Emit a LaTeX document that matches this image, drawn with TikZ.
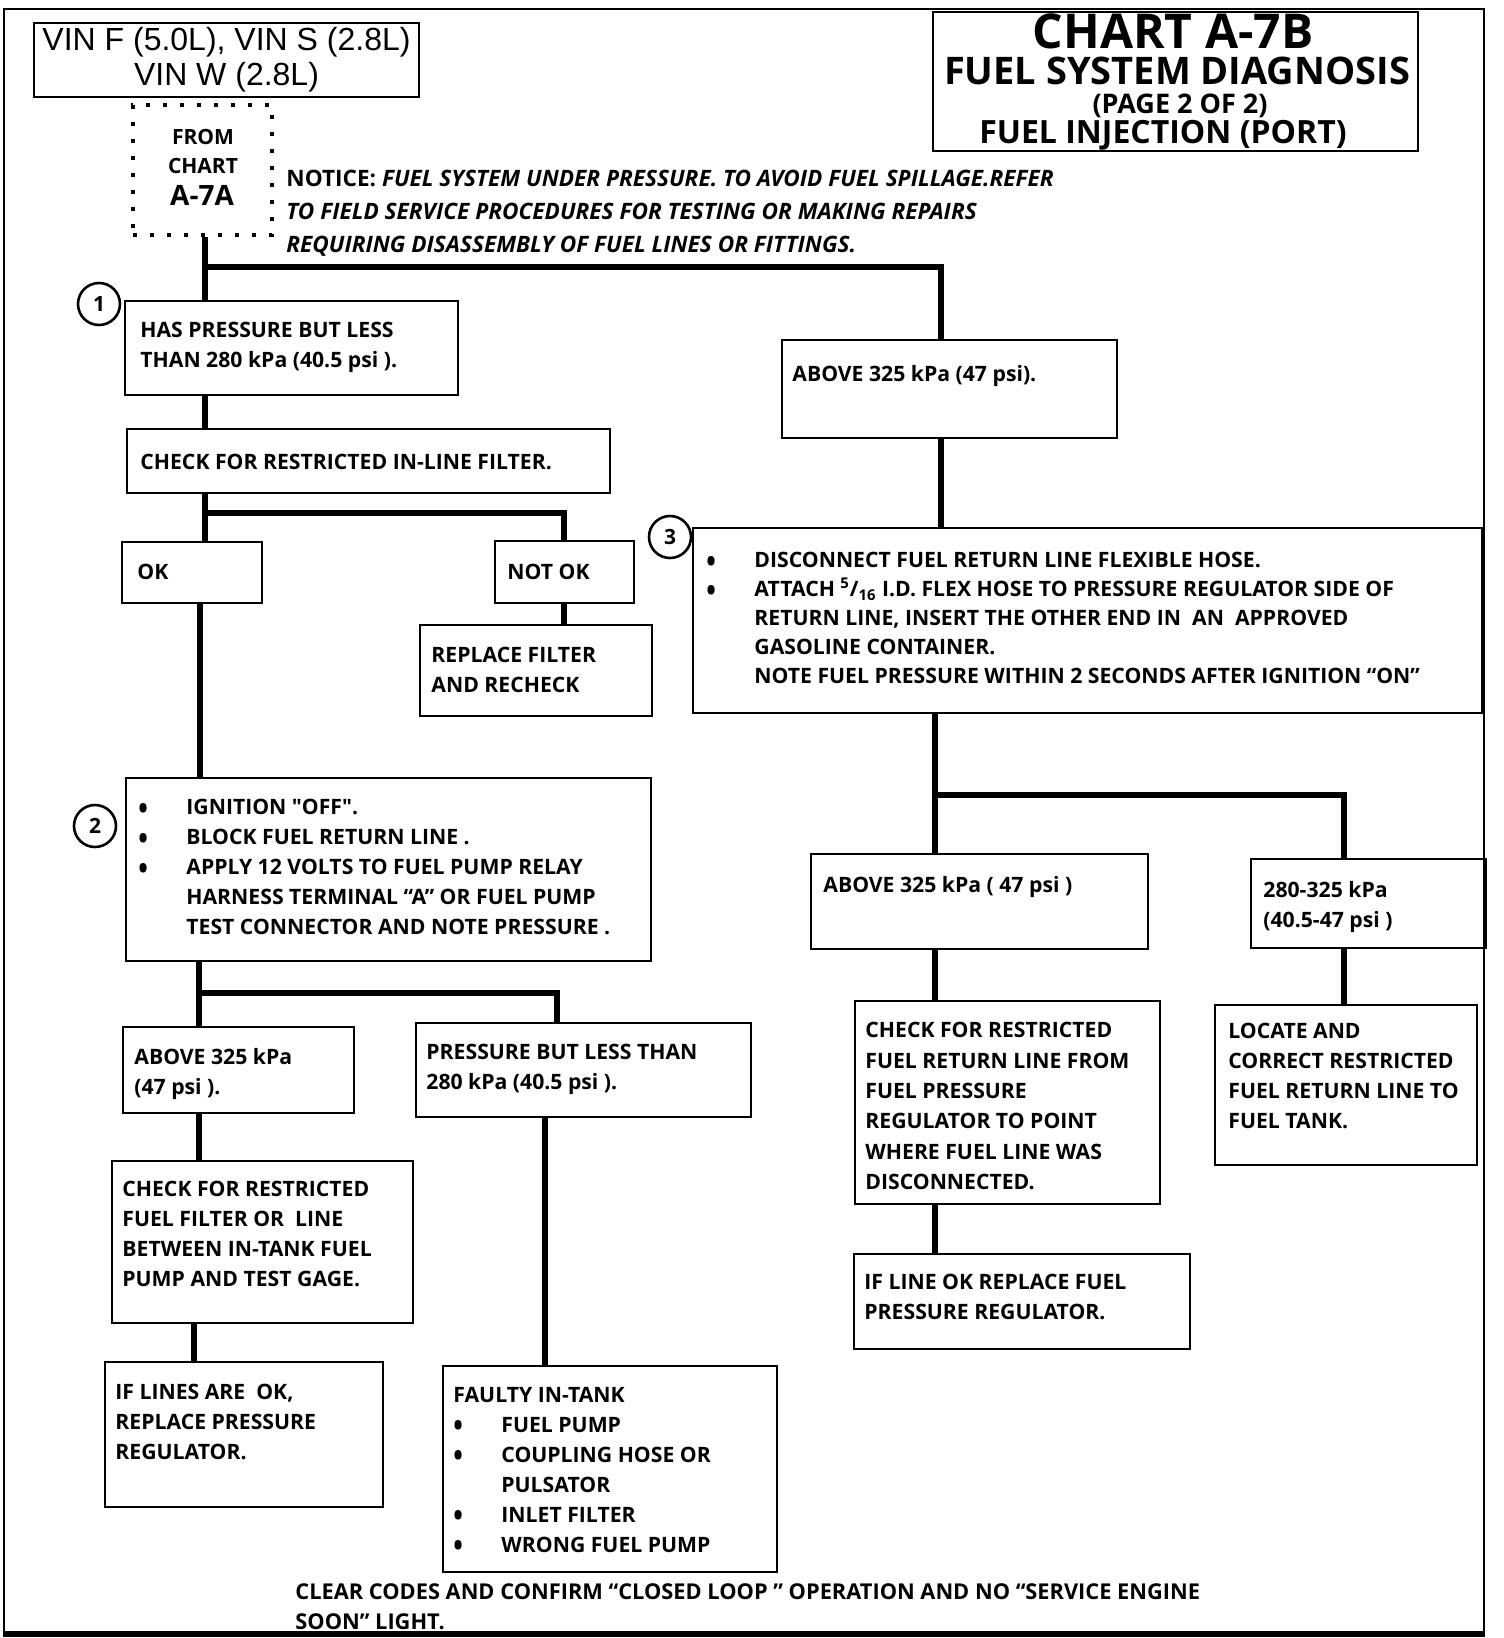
\documentclass[tikz,border=0pt]{standalone}
\usepackage{fontspec}
\newfontfamily\chartfont{Open Sans}
\newfontfamily\vinfont{Liberation Sans}
\usetikzlibrary{fit}

\tikzset{
  box/.style={draw,line width=1.3pt,inner sep=0pt},
  txt/.style={anchor=north west,inner sep=0pt,align=left,
    font=\chartfont\bfseries\fontsize{10.6}{15}\selectfont},
  conn/.style={line width=3.2pt},
  num/.style={circle,draw,line width=1.3pt,fill=white,minimum size=21pt,inner sep=0pt,
    font=\chartfont\bfseries\fontsize{10.5}{12}\selectfont},
  head/.style={inner sep=0pt},
}
\newcommand{\bl}{\makebox[24pt][l]{\raisebox{-0.2em}{\scalebox{1.2}[1.45]{\textbullet}}}}
\newcommand{\nb}{\makebox[24pt]{}}

\begin{document}
\begin{tikzpicture}[x=0.5pt,y=-0.5pt]
\useasboundingbox (0,0) rectangle (1504,1638);
% outer frame
\draw[line width=1.3pt] (4,1634) -- (4,9) -- (1484,9) -- (1484,1634);
\draw[line width=2.6pt] (3,1634) -- (1485,1634);

% header
\node[box,fit={(34,23) (419,97)}] (vin) {};
\node[head,align=center,font=\vinfont\fontsize{16}{17.5}\selectfont] (vintext) at (vin.center) {VIN F (5.0L), VIN S (2.8L)\\VIN W (2.8L)};
\node[box,fit={(933,12) (1418,151)}] (title) {};
\node[head,font=\chartfont\bfseries\fontsize{24}{25}\selectfont] (title1) at (1173,31) {CHART A-7B};
\node[head,font=\chartfont\bfseries\fontsize{19}{20}\selectfont] (title2) at (1177,71) {FUEL SYSTEM DIAGNOSIS};
\node[head,font=\chartfont\bfseries\fontsize{13.5}{14}\selectfont] (title3) at (1180,106) {(PAGE 2 OF 2)};
\node[head,font=\chartfont\bfseries\fontsize{16}{17}\selectfont] (title4) at (1163,135) {FUEL INJECTION (PORT)};

% entry from chart A-7A
\node[fit={(133,105) (272,235)},inner sep=0pt,draw,line width=2pt,dash pattern=on 2pt off 6.5pt] (from) {};
\node[head,font=\chartfont\bfseries\fontsize{10.5}{11}\selectfont] (from1) at (203,137) {FROM};
\node[head,font=\chartfont\bfseries\fontsize{10.5}{11}\selectfont] (from2) at (203,166) {CHART};
\node[head,font=\chartfont\bfseries\fontsize{14}{15}\selectfont] (from3) at (202,195) {A-7A};
\node[txt,font=\chartfont\bfseries\fontsize{11.3}{16.4}\selectfont] (notice) at (286,170)
  {NOTICE: \textit{FUEL SYSTEM UNDER PRESSURE. TO AVOID FUEL SPILLAGE.REFER}\\
   \textit{TO FIELD SERVICE PROCEDURES FOR TESTING OR MAKING REPAIRS}\\
   \textit{REQUIRING DISASSEMBLY OF FUEL LINES OR FITTINGS.}};

% left branch
\node[box,fit={(125,301) (458,395)}] (press1) {};
\node[txt] (press1text) at (140,322) {HAS PRESSURE BUT LESS\\THAN 280 kPa (40.5 psi ).};
\node[num] (n1) at (99,304) {1};
\node[box,fit={(127,429) (610,493)}] (filter) {};
\node[txt] (filtertext) at (140,454) {CHECK FOR RESTRICTED IN-LINE FILTER.};
\node[box,fit={(122,542) (262,603)}] (ok) {};
\node[txt] (oktext) at (137,564) {OK};
\node[box,fit={(495,541) (634,603)}] (notok) {};
\node[txt] (notoktext) at (507,564) {NOT OK};
\node[box,fit={(420,625) (652,716)}] (replace) {};
\node[txt] (replacetext) at (431,647) {REPLACE FILTER\\AND RECHECK};

\node[box,fit={(126,778) (651,961)}] (relay) {};
\node[txt] (relaytext) at (138,799)
  {\bl IGNITION "OFF".\\
   \bl BLOCK FUEL RETURN LINE .\\
   \bl APPLY 12 VOLTS TO FUEL PUMP RELAY\\
   \nb HARNESS TERMINAL “A” OR FUEL PUMP\\
   \nb TEST CONNECTOR AND NOTE PRESSURE .};
\node[num] (n2) at (95,826) {2};
\node[box,fit={(123,1027) (354,1113)}] (high2) {};
\node[txt] (high2text) at (134,1048) {ABOVE 325 kPa\\(47 psi ).};
\node[box,fit={(416,1023) (751,1117)}] (low2) {};
\node[txt] (low2text) at (426,1044) {PRESSURE BUT LESS THAN\\280 kPa (40.5 psi ).};
\node[box,fit={(112,1161) (413,1323)}] (gage) {};
\node[txt] (gagetext) at (122,1181) {CHECK FOR RESTRICTED\\FUEL FILTER OR\ \ LINE\\BETWEEN IN-TANK FUEL\\PUMP AND TEST GAGE.};
\node[box,fit={(105,1362) (383,1507)}] (regl) {};
\node[txt] (regltext) at (115,1384) {IF LINES ARE\ \ OK,\\REPLACE PRESSURE\\REGULATOR.};
\node[box,fit={(443,1366) (777,1572)}] (pump) {};
\node[txt] (pumptext) at (453,1387)
  {FAULTY IN-TANK\\
   \bl FUEL PUMP\\
   \bl COUPLING HOSE OR\\
   \nb PULSATOR\\
   \bl INLET FILTER\\
   \bl WRONG FUEL PUMP};

% right branch
\node[box,fit={(782,340) (1117,438)}] (high1) {};
\node[txt] (high1text) at (792,365) {ABOVE 325 kPa (47 psi).};
\node[box,fit={(693,528) (1482,713)}] (hose) {};
\node[txt,font=\chartfont\bfseries\fontsize{10.6}{14.5}\selectfont] (hosetext) at (706,552)
  {\bl DISCONNECT FUEL RETURN LINE FLEXIBLE HOSE.\\
   \bl ATTACH \textsuperscript{5}/\textsubscript{16} I.D. FLEX HOSE TO PRESSURE REGULATOR SIDE OF\\
   \nb RETURN LINE, INSERT THE OTHER END IN\ \ AN\ \ APPROVED\\
   \nb GASOLINE CONTAINER.\\
   \nb NOTE FUEL PRESSURE WITHIN 2 SECONDS AFTER IGNITION “ON”};
\node[num] (n3) at (670,537) {3};
\node[box,fit={(811,854) (1148,949)}] (high3) {};
\node[txt] (high3text) at (823,876) {ABOVE 325 kPa ( 47 psi )};
\node[box,fit={(1251,859) (1486,948)}] (mid3) {};
\node[txt] (mid3text) at (1263,881) {280-325 kPa\\(40.5-47 psi )};
\node[box,fit={(855,1001) (1160,1204)}] (retline) {};
\node[txt,font=\chartfont\bfseries\fontsize{10.6}{15.2}\selectfont] (retlinetext) at (865,1022)
  {CHECK FOR RESTRICTED\\FUEL RETURN LINE FROM\\FUEL PRESSURE\\REGULATOR TO POINT\\WHERE FUEL LINE WAS\\DISCONNECTED.};
\node[box,fit={(1215,1005) (1477,1165)}] (locate) {};
\node[txt] (locatetext) at (1228,1023) {LOCATE AND\\CORRECT RESTRICTED\\FUEL RETURN LINE TO\\FUEL TANK.};
\node[box,fit={(854,1254) (1190,1349)}] (regr) {};
\node[txt] (regrtext) at (864,1274) {IF LINE OK REPLACE FUEL\\PRESSURE REGULATOR.};

\node[txt,font=\chartfont\bfseries\fontsize{10.9}{15}\selectfont] (clear) at (295,1583)
  {CLEAR CODES AND CONFIRM “CLOSED LOOP ” OPERATION AND NO “SERVICE ENGINE\\SOON” LIGHT.};

% connectors
\coordinate (trunk) at (205,267);
\coordinate (trunkr) at (941,267);
\draw[conn] (from.south -| trunk) -- (press1.north -| trunk);
\draw[conn] (trunk) -- (trunkr) -- (trunkr |- high1.north);
\draw[conn] (press1.south -| trunk) -- (filter.north -| trunk);
\coordinate (fork1) at (205,513);
\coordinate (fork1r) at (564,513);
\draw[conn] (filter.south -| fork1) -- (ok.north -| fork1);
\draw[conn] (fork1) -- (fork1r) -- (fork1r |- notok.north);
\draw[conn] (notok.south -| fork1r) -- (replace.north -| fork1r);
\coordinate (okline) at (200,700);
\draw[conn] (ok.south -| okline) -- (relay.north -| okline);
\coordinate (fork2) at (199,993);
\coordinate (fork2r) at (557,993);
\draw[conn] (relay.south -| fork2) -- (high2.north -| fork2);
\draw[conn] (fork2) -- (fork2r) -- (fork2r |- low2.north);
\draw[conn] (high2.south -| fork2) -- (gage.north -| fork2);
\coordinate (gageline) at (194,1340);
\draw[conn] (gage.south -| gageline) -- (regl.north -| gageline);
\coordinate (lowline) at (545,1200);
\draw[conn] (low2.south -| lowline) -- (pump.north -| lowline);
\draw[conn] (high1.south -| trunkr) -- (hose.north -| trunkr);
\coordinate (fork3) at (935,795);
\coordinate (fork3r) at (1344,795);
\draw[conn] (hose.south -| fork3) -- (high3.north -| fork3);
\draw[conn] (fork3) -- (fork3r) -- (fork3r |- mid3.north);
\draw[conn] (high3.south -| fork3) -- (retline.north -| fork3);
\draw[conn] (retline.south -| fork3) -- (regr.north -| fork3);
\draw[conn] (mid3.south -| fork3r) -- (locate.north -| fork3r);
\end{tikzpicture}
\end{document}
